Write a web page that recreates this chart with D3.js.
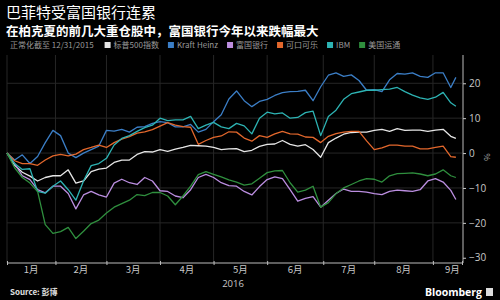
<!DOCTYPE html>
<html>
<head>
<meta charset="utf-8">
<script src="https://cdn.jsdelivr.net/npm/d3@7"></script>
<style>
  body { margin: 0; background: #000; }
  text { font-family: "Noto Sans CJK SC", "Noto Sans", sans-serif; }
</style>
</head>
<body>
<div id="chart"></div>
<script>
// trading days since 12/31/2015
var days = [0,3,6,9,12,15,18,21,24,27,30,33,36,39,42,45,48,51,54,57,60,63,66,69,72,75,78,81,84,87,90,93,96,99,102,105,108,111,114,117,120,123,126,129,132,135,138,141,144,147,150,153,156,159,162,165,168,171,174,176];

var sp500 = [0,-3.5,-5.5,-6.6,-8,-7,-6.5,-6.5,-4.8,-8.6,-8,-5.3,-4.6,-4.3,-2.7,-2,-2,-0.4,0.4,0.3,1,0.5,1.1,1.6,2.2,2.1,2,1.6,1,1.2,1.3,0.4,0.8,1.9,2.5,2.6,3.6,2.5,2,2.4,1,-1.2,3,4.3,5.4,5.9,6,6,6.5,6.8,6.2,7,6.5,6.6,6.6,6.2,6.6,6.8,4.8,4.2];
var kraft = [0,-2,-0.5,-3,-1,3,6.5,5,0,-1.3,0,1,2,6.5,6.3,6.8,6,7.4,7.6,8.5,9,8.7,7.5,7.5,8.2,6,6.8,9,11,15.5,17.8,15,13.3,14.8,15.4,16.5,17.3,17.6,17.7,18,15,19,22.3,23,22,22.4,20.8,18,18.2,17.6,21,22.8,22.6,23,22,21.7,23,23,18.8,21.7];
var wells = [0,-3,-6.5,-7.6,-10.5,-11.4,-9.5,-9.5,-11.6,-16,-12,-11,-12,-12.6,-8.6,-7.5,-8.5,-9,-7,-8,-10.8,-11,-12.3,-12.8,-10.5,-7,-6.1,-7,-8.5,-9.3,-9.5,-11,-12,-9.6,-7.6,-6.8,-7.3,-10.5,-13.8,-13,-12.5,-15.5,-13.5,-11.6,-10.3,-11,-11,-11.2,-11.6,-11.9,-11,-10.6,-10.8,-11,-10.5,-8,-7.3,-8.3,-10.7,-13.3];
var coke = [0,-2.2,-3,-3,-3.5,-2,-0.8,-0.4,-0.8,-0.3,1,1.6,2.3,1.6,3,4,4.7,5.7,6.1,6.7,7.7,8.7,8,7.6,7.4,2.5,3.6,4.5,4.9,6.1,6,4.3,3.4,5,4.5,5.5,6.2,5.5,5.4,4.6,4.5,3,4.8,5.6,6,6.2,6.2,3.5,1,1.5,2.3,2.3,2,2,1.2,1.2,1.6,2,-1,-1.2];
var ibm = [0,-3,-4.7,-4.5,-11,-11.5,-9.5,-8,-10.5,-13.5,-8,-3.6,-3,-1.5,2.3,4.2,5,6.2,7.3,8,10,9.3,9.5,9.5,10.5,7,8,8.8,7.5,7,8.5,7.8,5.5,10,11.7,11.2,11.5,10,10.2,11.6,12,5,10.5,12.3,15.4,17,17.5,18,18,18.2,18.3,18.8,17.6,16.6,15.8,15.4,16,17.4,14.4,13.4];
var amex = [0,-4.2,-7,-8.6,-11,-20.5,-23,-22.5,-21.3,-24.5,-22.4,-20.2,-19.2,-17.2,-15.5,-14.5,-13.5,-11.9,-12.2,-11.3,-11.3,-12.3,-14.8,-12.3,-9.5,-6.2,-5.3,-6.1,-6.8,-7.7,-8.3,-9.2,-8.8,-7.2,-5.6,-5.1,-5,-8.5,-11.2,-10.6,-9.5,-15.5,-14.2,-11.6,-10,-9,-8,-7.3,-7.5,-8.3,-6.5,-5.9,-5.8,-5.7,-6,-6.5,-6,-4.8,-6.5,-7];

var seriesNames = ["标普500指数", "Kraft Heinz", "富国银行", "可口可乐", "IBM", "美国运通"];
var seriesColors = ["#e6e6e6", "#3b7ec6", "#bb8ee0", "#e2672c", "#2db3b3", "#2f8f3e"];
var seriesValues = [sp500, kraft, wells, coke, ibm, amex];

var monthLabels = ["1月", "2月", "3月", "4月", "5月", "6月", "7月", "8月", "9月"];
var monthStarts = [0, 19, 39, 60, 81, 102, 124, 144, 167];
var lastDay = 178.4;
var yTicks = [-30, -20, -10, 0, 10, 20];

var svgWidth = 500;
var svgHeight = 300;

var svg = d3.select("#chart")
    .append("svg")
    .attr("width", svgWidth)
    .attr("height", svgHeight)
    .style("background", "#000");

var xScale = d3.scaleLinear().domain([0, lastDay]).range([7, 462]);
var yScale = d3.scaleLinear().domain([-31.5, 28.1]).range([263, 55]);

// titles
svg.append("text")
    .attr("x", 6).attr("y", 17.5)
    .attr("fill", "#fff")
    .attr("font-size", "15px")
    .text("巴菲特受富国银行连累");

svg.append("text")
    .attr("x", 6).attr("y", 36)
    .attr("fill", "#fff")
    .attr("font-size", "12.5px")
    .attr("font-weight", "bold")
    .text("在柏克夏的前几大重仓股中，富国银行今年以来跌幅最大");

// legend
var legend = svg.append("g").attr("transform", "translate(0, 48)");
var intro = legend.append("text")
    .attr("x", 10).attr("y", 0)
    .attr("fill", "#9a9a9a")
    .attr("font-size", "8px")
    .text("正常化截至 12/31/2015");
var lx = 10 + intro.node().getComputedTextLength() + 11;
seriesNames.forEach(function (name, i) {
    legend.append("rect")
        .attr("x", lx).attr("y", -6)
        .attr("width", 6).attr("height", 6)
        .attr("fill", seriesColors[i]);
    var t = legend.append("text")
        .attr("x", lx + 9).attr("y", 0)
        .attr("fill", "#9a9a9a")
        .attr("font-size", "8px")
        .text(name);
    lx += 9 + t.node().getComputedTextLength() + 9;
});

// grid
var grid = svg.append("g");
grid.selectAll(".hgrid")
    .data(yTicks.filter(function (d) { return d > -30; }))
    .enter().append("line")
    .attr("x1", 7).attr("x2", 462)
    .attr("y1", function (d) { return yScale(d); })
    .attr("y2", function (d) { return yScale(d); })
    .attr("stroke", "#262626")
    .attr("stroke-width", 1);

grid.selectAll(".vgrid")
    .data(monthStarts)
    .enter().append("line")
    .attr("x1", function (d) { return xScale(d); })
    .attr("x2", function (d) { return xScale(d); })
    .attr("y1", 55).attr("y2", 263)
    .attr("stroke", "#262626")
    .attr("stroke-width", 1);

// lines
var line = d3.line()
    .x(function (d, i) { return xScale(days[i]); })
    .y(function (d) { return yScale(d); });

seriesValues.forEach(function (vals, i) {
    svg.append("path")
        .datum(vals)
        .attr("fill", "none")
        .attr("stroke", seriesColors[i])
        .attr("stroke-width", 1.3)
        .attr("stroke-linejoin", "round")
        .attr("d", line);
});

// right axis
var rightAxis = d3.axisRight(yScale)
    .tickValues(yTicks)
    .tickSize(3)
    .tickPadding(3);
var ay = svg.append("g")
    .attr("transform", "translate(463, 0)")
    .call(rightAxis);
ay.select(".domain").remove();
ay.append("line")
    .attr("x1", 0).attr("x2", 0)
    .attr("y1", 55).attr("y2", 263)
    .attr("stroke", "#bbb");
ay.selectAll(".tick line").attr("stroke", "#ccc");
ay.selectAll(".tick text")
    .attr("fill", "#c8c8c8")
    .attr("font-size", "10px")
    .style("font-family", "'Open Sans', sans-serif");

svg.append("text")
    .attr("transform", "translate(490, 157) rotate(-90)")
    .attr("text-anchor", "middle")
    .attr("fill", "#aaa")
    .attr("font-size", "8px")
    .text("%");

// bottom axis
var bottomAxis = d3.axisBottom(xScale)
    .tickValues(monthStarts.concat([lastDay]))
    .tickSize(3)
    .tickFormat("");
var ax = svg.append("g")
    .attr("transform", "translate(0, 263)")
    .call(bottomAxis);
ax.select(".domain").attr("stroke", "#bbb").attr("d", "M7,0H462");
ax.selectAll(".tick line").attr("stroke", "#bbb").attr("y1", -2).attr("y2", 2);

var ends = monthStarts.slice(1).concat([lastDay]);
svg.selectAll(".month")
    .data(monthLabels)
    .enter().append("text")
    .attr("x", function (d, i) { return (xScale(monthStarts[i]) + xScale(ends[i])) / 2 + (i === 8 ? 5 : 0); })
    .attr("y", 273)
    .attr("text-anchor", "middle")
    .attr("fill", "#c8c8c8")
    .attr("font-size", "9.5px")
    .text(function (d) { return d; });

svg.append("text")
    .attr("x", 233).attr("y", 287)
    .attr("text-anchor", "middle")
    .attr("fill", "#c8c8c8")
    .attr("font-size", "9.5px")
    .style("font-family", "'Open Sans', sans-serif")
    .text("2016");

// footer
svg.append("text")
    .attr("x", 10).attr("y", 295)
    .attr("fill", "#e0e0e0")
    .attr("font-size", "8px")
    .attr("font-weight", "bold")
    .text("Source: 彭博");

svg.append("text")
    .attr("x", 482).attr("y", 296)
    .attr("text-anchor", "end")
    .attr("fill", "#fff")
    .attr("font-size", "10.5px")
    .attr("font-weight", "bold")
    .style("font-family", "'Open Sans', sans-serif")
    .text("Bloomberg");

svg.append("rect")
    .attr("x", 486).attr("y", 288)
    .attr("width", 7).attr("height", 8)
    .attr("fill", "#ddd");
</script>
</body>
</html>
